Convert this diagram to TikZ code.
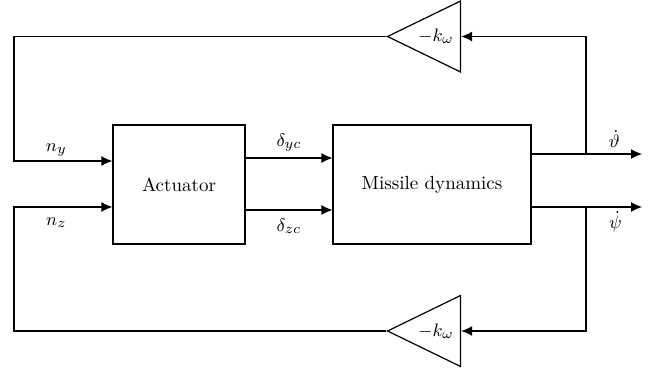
\documentclass[tikz,border=0pt]{standalone}
\usepackage{amsmath,amssymb}
\usetikzlibrary{shapes.geometric,arrows.meta,positioning}

\begin{document}
\begin{tikzpicture}[
    x=0.5pt, y=-0.5pt,
    line width=0.6pt,
    >={Latex[length=5.5pt,width=5pt]},
    block/.style={draw, rectangle, inner sep=0pt, font=\fontsize{9.5}{11}\selectfont},
    gain/.style={draw, isosceles triangle, shape border rotate=180,
        isosceles triangle stretches, minimum width=35.5pt, minimum height=36.5pt,
        inner sep=0pt, font=\fontsize{9.5}{11}\selectfont},
    sig/.style={inner sep=2pt, font=\fontsize{9.5}{11}\selectfont}
]
\useasboundingbox (0,0) rectangle (649,375);
% blocks
\node[block, minimum width=66pt, minimum height=59.5pt] (act) at (179,184.5) {Actuator};
\node[block, minimum width=99pt, minimum height=59.5pt] (mis) at (432,184.5) {Missile dynamics};
\node[gain, anchor=apex] (kt) at (386,36.5) {$-k_\omega$};
\node[gain, anchor=apex] (kb) at (386,331) {$-k_\omega$};
% helper points
\coordinate (ny) at (14,161);
\coordinate (nz) at (14,207);
\coordinate (dy) at (289,158);
\coordinate (dz) at (289,210);
\coordinate (th) at (642,154);
\coordinate (ps) at (642,207);
\coordinate (tb) at (586,154);
\coordinate (pb) at (586,207);
\coordinate (lt) at (14,36.5);
\coordinate (lb) at (14,331);
% outputs
\draw[->] (mis.east |- th) -- (th) node[sig, pos=0.75, above=1pt] {$\dot{\vartheta}$};
\draw[->] (mis.east |- ps) -- (ps) node[sig, pos=0.76, below=0pt] {$\dot{\psi}$};
% actuator to missile
\draw[->] (act.east |- dy) -- (mis.west |- dy) node[sig, midway, above=1pt] {$\delta_{yc}$};
\draw[->] (act.east |- dz) -- (mis.west |- dz) node[sig, midway, below=2pt] {$\delta_{zc}$};
% feedback loops
\draw[->] (tb) |- (kt.lower side);
\draw[->] (kt.apex) -- (lt) -- (ny) -- (act.west |- ny) node[sig, pos=0.43, above=0pt] {$n_y$};
\draw[->] (pb) |- (kb.lower side);
\draw[->] (kb.apex) -- (lb) -- (nz) -- (act.west |- nz) node[sig, pos=0.43, below=3pt] {$n_z$};
\end{tikzpicture}
\end{document}
